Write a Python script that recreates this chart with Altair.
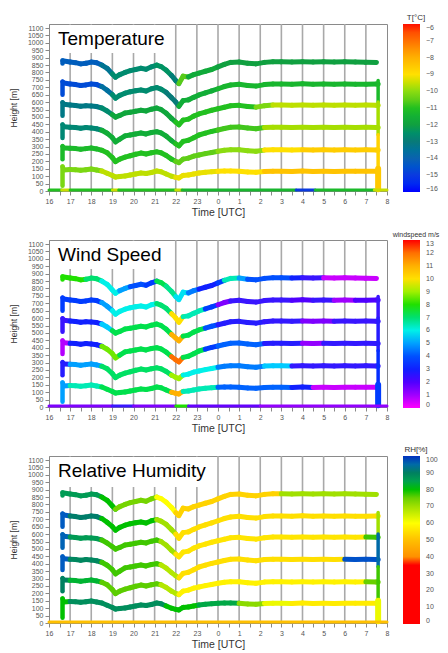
import altair as alt
import pandas as pd

# ---------------- data ----------------
# time knots in hours (after midnight: +24)
TIME = [16.70, 17.0, 17.25, 17.5, 17.75, 18.0, 18.25, 18.5, 18.75, 19.0,
        19.15, 19.35, 19.6, 19.85, 20.1, 20.35, 20.6, 20.85, 21.1, 21.3,
        21.55, 21.8, 22.0, 22.15, 22.35, 22.6, 22.85, 23.1, 23.4, 23.7,
        24.0, 24.3, 24.6, 25.0, 25.4, 25.8, 26.2, 26.6, 27.0, 27.5,
        28.0, 28.5, 29.0, 29.5, 30.0, 30.5, 31.0, 31.5]

H1 = [877, 870, 866, 858, 862, 870, 866, 850, 828, 790, 768, 785, 800, 812, 820, 828, 822, 838, 850, 840,
      815, 780, 745, 725, 775, 770, 785, 796, 808, 820, 838, 855, 868, 870, 862, 858, 868, 872, 872, 870,
      873, 870, 872, 870, 872, 870, 869, 867]
H2 = [729, 722, 718, 712, 716, 722, 718, 705, 680, 650, 627, 645, 660, 670, 676, 682, 675, 690, 698, 688,
      665, 630, 600, 572, 610, 615, 632, 648, 662, 675, 690, 705, 715, 720, 712, 708, 718, 722, 722, 720,
      723, 720, 722, 720, 722, 720, 721, 722]
H3 = [586, 580, 577, 572, 575, 574, 570, 560, 540, 515, 499, 510, 526, 532, 538, 545, 540, 552, 560, 550,
      525, 490, 465, 447, 478, 485, 505, 520, 532, 545, 555, 565, 575, 578, 570, 566, 575, 580, 580, 578,
      581, 578, 580, 578, 580, 579, 580, 579]
H4 = [434, 430, 428, 424, 428, 425, 420, 410, 390, 360, 332, 350, 372, 378, 385, 391, 385, 395, 400, 392,
      370, 340, 318, 305, 335, 342, 360, 378, 390, 402, 412, 422, 430, 432, 425, 420, 428, 430, 430, 428,
      431, 428, 430, 428, 430, 429, 430, 429]
H5 = [290, 288, 286, 282, 286, 290, 284, 275, 258, 225, 198, 215, 229, 238, 248, 256, 250, 258, 264, 258,
      240, 215, 200, 192, 215, 222, 235, 243, 252, 260, 268, 275, 278, 278, 272, 268, 276, 278, 278, 276,
      279, 276, 278, 276, 278, 277, 278, 277]
H6 = [142, 145, 144, 140, 143, 148, 142, 135, 120, 105, 94, 98, 101, 108, 115, 121, 118, 125, 135, 130,
      115, 100, 92, 88, 105, 108, 115, 121, 126, 130, 133, 135, 135, 134, 128, 126, 132, 134, 134, 132,
      135, 132, 134, 132, 134, 133, 134, 133]
HEIGHTS = [H1, H2, H3, H4, H5, H6]

HOOK_T = 16.64
HOOK_TOP = [880, 738, 598, 448, 302, 165]
HOOK_BOT = [860, 650, 508, 358, 215, 35]

END_T = 31.58
END_H = [745, 600, 380, 150, 12]
GROUND_H = 6

# colour runs per level: [time until, value]
T_RUNS = [
    [[18.5, -14.2], [19.0, -13.4], [21.0, -12.6], [21.8, -12.4], [22.15, -12.9], [22.5, -10.6], [24.0, -11.7], [32, -12.0]],
    [[18.4, -14.7], [19.0, -13.6], [21.5, -12.6], [22.2, -13.0], [24.0, -11.6], [32, -11.3]],
    [[18.5, -13.2], [19.0, -12.6], [22.0, -11.8], [25.8, -11.0], [26.5, -10.2], [32, -9.6]],
    [[18.5, -12.7], [22.0, -11.6], [24.0, -11.0], [26.0, -10.8], [32, -9.8]],
    [[18.5, -11.2], [22.0, -11.0], [24.0, -10.5], [26.0, -10.0], [28.0, -9.0], [32, -8.6]],
    [[18.5, -10.2], [22.0, -9.6], [24.0, -9.2], [26.0, -9.0], [32, -8.4]],
]
T_GROUND = [[16.6, -11.0], [17.0, -9.5], [19.0, -11.0], [19.3, -9.5], [22.0, -11.0], [22.3, -9.5],
            [27.7, -11.3], [28.6, -15.0], [31.4, -11.2], [32.0, -9.5]]
T_END = [-11.2, -9.8, -8.7, -8.5]

W_RUNS = [
    [[17.8, 8.0], [18.6, 7.0], [19.3, 6.0], [19.8, 5.0], [20.5, 4.0], [21.1, 3.5], [21.6, 7.5], [22.0, 6.8],
     [22.6, 5.8], [23.2, 4.5], [24.0, 3.0], [24.4, 3.5], [25.0, 6.5], [25.5, 5.0], [27.5, 4.0], [28.0, 3.0],
     [29.0, 2.5], [32, 0.6]],
    [[18.5, 3.5], [19.0, 5.0], [21.0, 6.0], [21.8, 7.0], [22.4, 10.0], [23.5, 6.5], [24.0, 3.5], [24.7, 1.5],
     [27.5, 2.5], [28.5, 2.0], [29.5, 2.5], [30.5, 1.0], [32, 2.0]],
    [[17.0, 2.5], [18.5, 3.0], [19.0, 5.5], [21.7, 7.5], [22.3, 11.0], [23.5, 7.5], [24.0, 4.0], [26.0, 2.8],
     [27.8, 2.6], [29.5, 1.5], [32, 2.5]],
    [[16.85, 0.8], [18.5, 3.0], [19.3, 8.5], [21.7, 7.5], [22.3, 12.0], [23.5, 7.5], [24.0, 3.5], [26.0, 4.2],
     [28.0, 2.8], [29.0, 1.2], [32, 2.6]],
    [[16.85, 2.8], [18.5, 5.0], [21.7, 7.2], [22.3, 9.0], [24.0, 6.0], [26.0, 4.5], [27.5, 5.5], [32, 2.6]],
    [[16.85, 5.0], [18.5, 6.5], [21.7, 7.5], [22.3, 11.0], [24.0, 6.5], [27.5, 4.2], [28.5, 3.0], [32, 0.6]],
]
W_GROUND = [[19.0, 1.5], [20.0, 2.5], [22.0, 1.5], [22.6, 8.0], [26.0, 1.8], [32.0, 1.2]]
W_END = [2.5, 2.8, 3.2, 3.5]

RH_RUNS = [
    [[18.6, 86], [19.2, 80], [21.1, 74], [22.0, 60], [27.2, 53], [32, 70]],
    [[16.85, 97], [18.6, 91], [21.1, 80], [22.0, 70], [32, 55]],
    [[16.85, 96], [18.6, 86], [21.3, 78], [22.0, 70], [30.8, 56], [32, 78]],
    [[16.85, 97], [18.6, 89], [21.3, 78], [22.1, 68], [30.1, 55], [32, 98]],
    [[16.85, 90], [18.6, 82], [21.3, 76], [22.2, 68], [30.9, 58], [32, 75]],
    [[16.85, 80], [21.5, 88], [23.0, 80], [25.0, 84], [26.0, 72], [27.5, 62], [32, 57]],
]
RH_GROUND = [[32.0, 50]]
RH_END = [70, 95, 78, 62]

HOURS = list(range(17, 32))
HALF_HOURS = [16 + 0.5 * i for i in range(33)]
Y_TICKS = list(range(0, 1101, 50))

T_DOMAIN = [-16, -15, -14, -13, -12, -11, -10, -9, -8, -7, -6]
T_COLORS = ['#0000ff', '#0a3ae0', '#0a62b0', '#087a78', '#10a040', '#22c020', '#8cdc10',
            '#ffe000', '#ffb000', '#ff7000', '#ff1000']
W_DOMAIN = list(range(0, 14))
W_COLORS = ['#ff00ff', '#a000ff', '#5000ff', '#1020ff', '#0050ff', '#00a0ff', '#00f0e8',
            '#00e070', '#20e000', '#a0f000', '#ffe000', '#ffb000', '#ff7000', '#ff0000']
RH_DOMAIN = [0, 39.9, 40, 50, 60, 70, 80, 90, 100]
RH_COLORS = ['#ff0000', '#ff0000', '#ff9000', '#ffc000', '#ffff00', '#a0e000', '#00c000',
             '#008060', '#0030c0']

PANEL_TITLES = ['Temperature', 'Wind Speed', 'Relative Humidity']
LEGEND_TITLES = ['T[°C]', 'windspeed m/s', 'RH[%]']

W = 338
H = 167


def val(runs, t):
    for tend, v in runs:
        if t <= tend:
            return v
    return runs[-1][1]


def build(runs, ground, endv):
    rows = []
    for lv in range(6):
        hs = HEIGHTS[lv]
        r = runs[lv]
        v0 = val(r, HOOK_T)
        rows.append(dict(t=HOOK_T, h=HOOK_TOP[lv], t2=HOOK_T, h2=HOOK_BOT[lv], v=v0, w=4.5))
        rows.append(dict(t=HOOK_T, h=HOOK_TOP[lv], t2=TIME[0], h2=hs[0], v=v0, w=4.5))
        for i in range(len(TIME) - 1):
            rows.append(dict(t=TIME[i], h=hs[i], t2=TIME[i + 1], h2=hs[i + 1],
                             v=val(r, (TIME[i] + TIME[i + 1]) / 2), w=5))
        if lv > 0:
            rows.append(dict(t=TIME[-1], h=hs[-1], t2=END_T, h2=hs[-1], v=val(r, TIME[-1]), w=5))
    for k in range(len(END_H) - 1):
        rows.append(dict(t=END_T, h=END_H[k], t2=END_T, h2=END_H[k + 1], v=endv[k],
                         w=6 if k == len(END_H) - 2 else 3.5))
    start = 16.0
    for tend, v in ground:
        rows.append(dict(t=start, h=GROUND_H, t2=tend, h2=GROUND_H, v=v, w=3))
        start = tend
    return pd.DataFrame(rows)


x_enc = alt.X('t:Q', scale=alt.Scale(domain=[16, 32], nice=False, zero=False),
              axis=alt.Axis(values=HALF_HOURS, title='Time [UTC]', grid=False,
                            labelExpr="datum.value % 1 == 0 ? '' + (datum.value % 24) : ''",
                            tickSize=4, labelPadding=2, titlePadding=3, labelFlush=False,
                            titleFontSize=10.5))
y_enc = alt.Y('h:Q', scale=alt.Scale(domain=[0, 1127], nice=False, zero=False),
              axis=alt.Axis(values=Y_TICKS, format='d', title='Height [m]', grid=False, tickSize=4,
                            labelPadding=2, minExtent=23, maxExtent=23, titlePadding=8,
                            titleFontSize=8.5))

grid_df = pd.DataFrame({'t': HOURS})


def panel(df, title, domain, colors, ltitle, lvalues, box_w, box_h, tsize):
    grid = alt.Chart(grid_df).mark_rule(color='#a9a9a9', strokeWidth=1.6).encode(
        x=x_enc, y=alt.value(0), y2=alt.value(H))
    data = alt.Chart(df).mark_rule(strokeCap='round').encode(
        x=x_enc, x2='t2:Q', y=y_enc, y2='h2:Q',
        strokeWidth=alt.StrokeWidth('w:Q', scale=None, legend=None),
        color=alt.Color('v:Q', scale=alt.Scale(domain=domain, range=colors),
                        legend=alt.Legend(type='gradient', direction='vertical', orient='none',
                                          legendX=W + 16, legendY=0, gradientLength=H + 1,
                                          gradientThickness=17, title=None, values=lvalues,
                                          labelFontSize=7, labelColor='#555', labelOffset=6,
                                          gradientStrokeWidth=0)))
    tdf = pd.DataFrame({'label': [title], 'legend': [ltitle]})
    box = alt.Chart(tdf).mark_rect(color='white').encode(
        x=alt.value(1), x2=alt.value(box_w), y=alt.value(1), y2=alt.value(box_h))
    txt = alt.Chart(tdf).mark_text(align='left', baseline='middle', fontSize=19,
                                   font='Liberation Sans', color='black').encode(
        x=alt.value(9), y=alt.value(15), text='label:N')
    ltxt = alt.Chart(tdf).mark_text(align='center', baseline='bottom', fontSize=tsize,
                                    font='Liberation Sans', color='#333').encode(
        x=alt.value(W + 29), y=alt.value(-2), text='legend:N')
    return alt.layer(grid, data, box, txt, ltxt).properties(width=W, height=H)


p1 = panel(build(T_RUNS, T_GROUND, T_END), PANEL_TITLES[0], T_DOMAIN, T_COLORS,
           LEGEND_TITLES[0], list(range(-16, -5)), 118, 29, 8)
p2 = panel(build(W_RUNS, W_GROUND, W_END), PANEL_TITLES[1], W_DOMAIN, W_COLORS,
           LEGEND_TITLES[1], list(range(0, 14)), 122, 29, 7)
p3 = panel(build(RH_RUNS, RH_GROUND, RH_END), PANEL_TITLES[2], RH_DOMAIN, RH_COLORS,
           LEGEND_TITLES[2], list(range(0, 101, 10)), 158, 31, 8)

chart = alt.vconcat(p1, p2, p3, spacing=49, bounds='flush').resolve_scale(
    color='independent').resolve_legend(color='independent').properties(
    padding={'left': 0, 'top': 5, 'right': 0, 'bottom': 0}
).configure_view(stroke='#8a8a8a', strokeWidth=1).configure_axis(
    labelFont='Liberation Sans', labelColor='#555', labelFontSize=7,
    titleFont='Liberation Sans', titleFontSize=9, titleFontWeight='normal', titleColor='#333',
    tickColor='#888', domainColor='#888'
)

chart.save('out.html', embed_options={'renderer': 'svg', 'actions': False})
